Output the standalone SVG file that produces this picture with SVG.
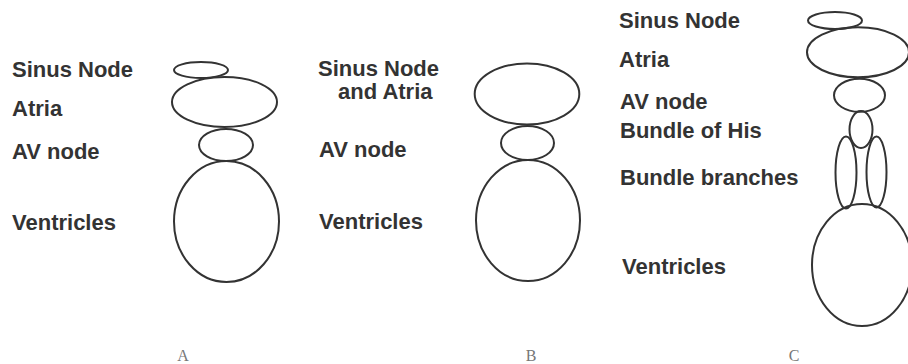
<svg xmlns="http://www.w3.org/2000/svg" width="908" height="364" viewBox="0 0 908 364">
<style>
.lbl{font-family:"Liberation Sans",Arial,sans-serif;font-weight:bold;font-size:22px;fill:#333}
.cap{font-family:"Liberation Serif","Times New Roman",serif;font-size:16px;fill:#777;text-anchor:middle}
.sh{fill:none;stroke:#333;stroke-width:2}
</style>
<rect width="908" height="364" fill="#fff"/>
<g id="connectors"/>
<!-- Panel A -->
<g id="A-labels">
<text class="lbl" x="12" y="77">Sinus Node</text>
<text class="lbl" x="12" y="116">Atria</text>
<text class="lbl" x="12" y="159">AV node</text>
<text class="lbl" x="12" y="230">Ventricles</text>
</g>
<g id="A-sinus"><ellipse class="sh" cx="201" cy="70" rx="27" ry="8"/></g>
<g id="A-atria"><ellipse class="sh" cx="224.5" cy="102" rx="52.5" ry="25"/></g>
<g id="A-av"><ellipse class="sh" cx="226" cy="145" rx="27" ry="16"/></g>
<g id="A-ventricles"><ellipse class="sh" cx="226.5" cy="221.5" rx="52.5" ry="60.5"/></g>
<g id="A-caption"><text class="cap" x="183" y="361">A</text></g>
<!-- Panel B -->
<g id="B-labels">
<text class="lbl" x="318" y="76">Sinus Node</text>
<text class="lbl" x="338" y="99">and Atria</text>
<text class="lbl" x="319" y="157">AV node</text>
<text class="lbl" x="319" y="229">Ventricles</text>
</g>
<g id="B-atria"><ellipse class="sh" cx="527" cy="94" rx="52.3" ry="30.5"/></g>
<g id="B-av"><ellipse class="sh" cx="527.5" cy="143" rx="26.5" ry="17"/></g>
<g id="B-ventricles"><ellipse class="sh" cx="528" cy="220.5" rx="52" ry="60.5"/></g>
<g id="B-caption"><text class="cap" x="531" y="361">B</text></g>
<!-- Panel C -->
<g id="C-labels">
<text class="lbl" x="619" y="28">Sinus Node</text>
<text class="lbl" x="619" y="67">Atria</text>
<text class="lbl" x="620" y="109">AV node</text>
<text class="lbl" x="620" y="138">Bundle of His</text>
<text class="lbl" x="620" y="185">Bundle branches</text>
<text class="lbl" x="622" y="274">Ventricles</text>
</g>
<g id="C-sinus"><ellipse class="sh" cx="835" cy="20.5" rx="27" ry="8.5"/></g>
<g id="C-atria"><ellipse class="sh" cx="858" cy="52.3" rx="51" ry="25"/></g>
<g id="C-av"><ellipse class="sh" cx="859.5" cy="95.3" rx="25.5" ry="16.5"/></g>
<g id="C-his"><ellipse class="sh" cx="861" cy="129.5" rx="11.5" ry="18.5"/></g>
<g id="C-branches">
<ellipse class="sh" cx="846" cy="172.5" rx="10.5" ry="36"/>
<ellipse class="sh" cx="876.5" cy="172" rx="10" ry="35.5"/>
</g>
<g id="C-ventricles"><ellipse class="sh" cx="862" cy="265" rx="50" ry="61"/></g>
<g id="C-caption"><text class="cap" x="794" y="361">C</text></g>
</svg>
